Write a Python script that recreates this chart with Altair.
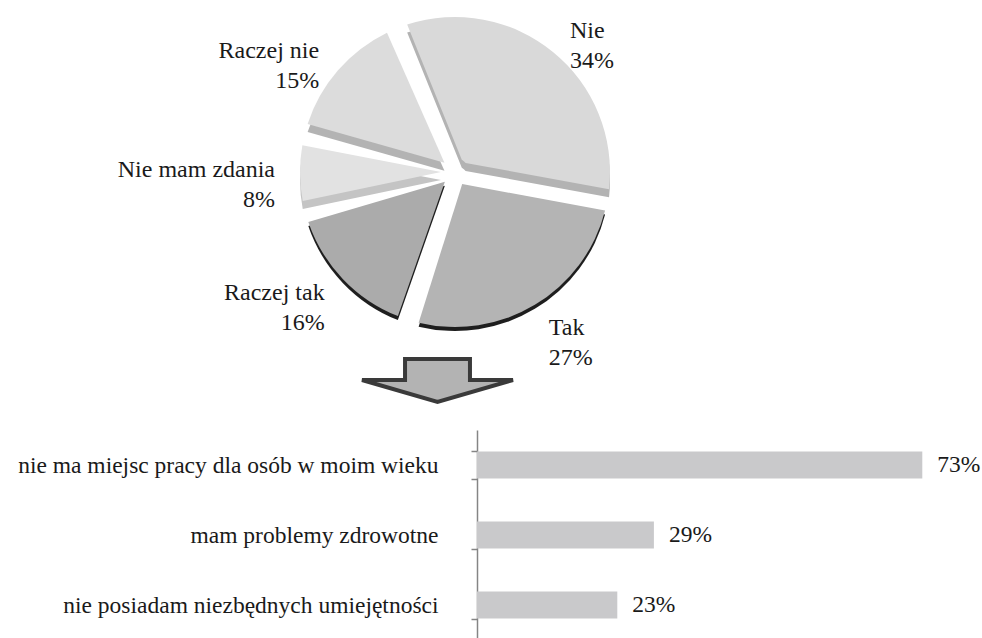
import math
import altair as alt
import pandas as pd

# ---------------- data ----------------
pie_categories = ["Nie", "Tak", "Raczej tak", "Nie mam zdania", "Raczej nie"]
pie_values = [34, 27, 16, 8, 15]
pie_face_colors = ["#d9d9d9", "#b4b4b4", "#ababab", "#e2e2e2", "#dcdcdc"]
pie_side_colors = ["#b3b3b3", "#1e1e1e", "#1e1e1e", "#c4c4c4", "#b3b3b3"]

bar_categories = [
    "nie ma miejsc pracy dla osób w moim wieku",
    "mam problemy zdrowotne",
    "nie posiadam niezbędnych umiejętności",
]
bar_values = [73, 29, 23]

pie_df = pd.DataFrame({
    "category": pie_categories,
    "value": pie_values,
    "order": list(range(len(pie_categories))),
})
pie_df["label"] = [f"{c}\n{v}%" for c, v in zip(pie_categories, pie_values)]

bar_df = pd.DataFrame({"category": bar_categories, "value": bar_values})
bar_df["label"] = [f"{v}%" for v in bar_values]

FONT = "Liberation Serif"
TEXT_COLOR = "#1a1a1a"
CX, CY = 455, 172
START = -0.384
theta_scale = alt.Scale(domain=[0, 100], range=[START, START + 2 * math.pi])

pie_base = alt.Chart(pie_df).transform_window(
    end="sum(value)", sort=[alt.SortField("order", order="ascending")], frame=[None, 0]
).transform_calculate(
    start="datum.end - datum.value",
    mid="datum.end - datum.value / 2",
)

arc_props = dict(innerRadius=14, outerRadius=155, padAngle=0.14, strokeWidth=0)


def arc_layer(filter_expr, shift, colors):
    base = pie_base
    if filter_expr:
        base = base.transform_filter(filter_expr)
    return base.mark_arc(**arc_props).encode(
        theta=alt.Theta("start:Q", scale=theta_scale, stack=False),
        theta2="end:Q",
        color=alt.Color("category:N", scale=alt.Scale(domain=pie_categories, range=colors), legend=None),
        x=alt.value(CX),
        y=alt.value(CY + shift),
    )


side_light = arc_layer("datum.order == 0 || datum.order >= 3", 8, pie_side_colors)
side_dark = arc_layer("datum.order == 1 || datum.order == 2", 4, pie_side_colors)
face = arc_layer(None, 0, pie_face_colors)

label_common = dict(font=FONT, fontSize=24, color=TEXT_COLOR, baseline="middle",
                    lineBreak="\n", lineHeight=30)

right_labels = pie_base.transform_filter("datum.mid < 50").mark_text(
    align="left", radius=182, **label_common
).encode(
    theta=alt.Theta("mid:Q", scale=theta_scale, stack=False),
    text="label:N",
    x=alt.value(CX),
    y=alt.value(CY),
)

left_labels = pie_base.transform_filter("datum.mid >= 50").mark_text(
    align="right", radius=180, **label_common
).encode(
    theta=alt.Theta("mid:Q", scale=theta_scale, stack=False),
    text="label:N",
    x=alt.value(CX),
    y=alt.value(CY - 3),
)

# block arrow pointing down
arrow_path = ("M-0.43,-0.305 L0.43,-0.305 L0.43,-0.026 L1,-0.026 "
              "L0,0.265 L-1,-0.026 L-0.43,-0.026 Z")
arrow = alt.Chart(pd.DataFrame({"a": [0]})).mark_point(
    shape=arrow_path, size=151 ** 2, filled=True, fill="#b3b3b3",
    stroke="#3a3a3a", strokeWidth=4, strokeJoin="miter",
    opacity=1, fillOpacity=1, strokeOpacity=1,
).encode(x=alt.value(437.5), y=alt.value(382))

# ---------------- bar chart ----------------
x_enc = alt.X("value:Q", scale=alt.Scale(domain=[0, 100], range=[477, 1087]), axis=None)
y_enc = alt.Y(
    "category:N",
    sort=bar_categories,
    scale=alt.Scale(range=[430, 640], paddingInner=0.614, paddingOuter=0.307),
    axis=alt.Axis(
        title=None, offset=-477, tickBand="extent",
        domainColor="#858585", domainWidth=1.5,
        tickColor="#858585", tickWidth=1.5, tickSize=6,
        labelFont=FONT, labelFontSize=23.5, labelColor=TEXT_COLOR,
        labelPadding=33, labelLimit=0,
    ),
)

bars = alt.Chart(bar_df).mark_bar(color="#c9c9cb").encode(x=x_enc, y=y_enc)
bar_text = alt.Chart(bar_df).mark_text(
    align="left", baseline="middle", dx=15, font=FONT, fontSize=23.5, color=TEXT_COLOR
).encode(x=x_enc, y=y_enc, text="label:N")

chart = alt.layer(
    side_light, side_dark, face, right_labels, left_labels, arrow, bars, bar_text
).resolve_scale(
    color="independent"
).properties(
    width=982, height=638, padding=0, background="white",
    autosize=alt.AutoSizeParams(type="none"),
).configure_view(stroke=None)

chart.save("out.html", embed_options={"renderer": "svg", "actions": False})
